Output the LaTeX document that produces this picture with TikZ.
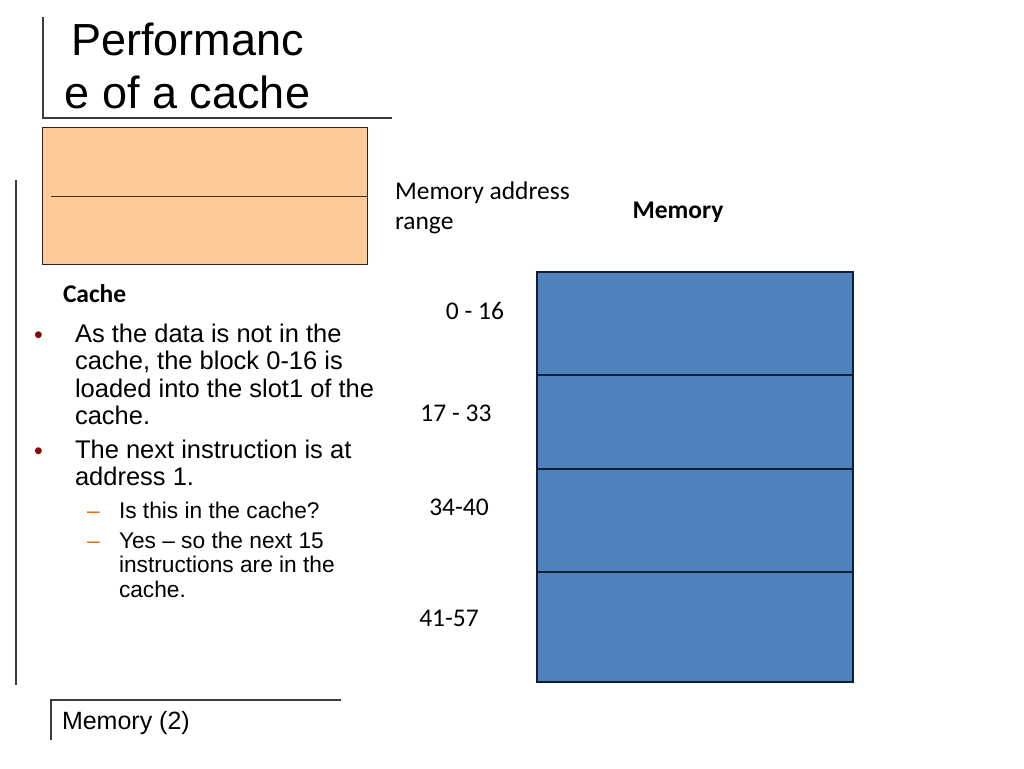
\documentclass[tikz,border=0pt]{standalone}
\usepackage{fontspec}
\setmainfont{Liberation Sans}
\newfontfamily\calibri{Carlito}
\usetikzlibrary{positioning}
\definecolor{cachefill}{RGB}{252,203,153}
\definecolor{cacheline}{RGB}{70,45,20}
\definecolor{memfill}{RGB}{79,129,189}
\definecolor{memline}{RGB}{15,30,55}
\definecolor{bulletred}{RGB}{130,10,10}
\definecolor{dashorange}{RGB}{228,108,10}
\definecolor{framegray}{RGB}{60,60,60}

\begin{document}
\begin{tikzpicture}[
    x=1pt, y=-1pt,
    every node/.style={inner sep=0pt, outer sep=0pt},
    titleframe/.style={draw=framegray, line width=1.3pt},
    cacheblock/.style={rectangle, draw=black!85, fill=cachefill, line width=0.8pt, minimum width=325pt, minimum height=137pt},
    memblock/.style={rectangle, draw=memline, fill=memfill, line width=1.1pt, minimum width=316pt},
    addrtext/.style={font=\calibri\fontsize{25.5}{30}\selectfont, align=left},
    boldtext/.style={font=\calibri\bfseries\fontsize{25.5}{30}\selectfont},
    bullettext/.style={font=\fontsize{25.5}{27.5}\selectfont, align=left, anchor=base west},
    subtext/.style={font=\fontsize{22.7}{24.5}\selectfont, align=left, anchor=base west},
    bulletdot/.style={text=bulletred, font=\fontsize{25}{25}\selectfont, anchor=base west},
    subdash/.style={text=dashorange, font=\fontsize{22.7}{24.5}\selectfont, anchor=base west}
    ]
    \useasboundingbox (0,0) rectangle (1024,768);
    % Title
    \coordinate (t1) at (43,17);
    \coordinate (t2) at (43,118);
    \coordinate (t3) at (392,118);
    \draw[titleframe] (t1) -- (t2) -- (t3);
    \node[font=\fontsize{45}{53}\selectfont, align=center, anchor=base] (title) at (187.5,108) {Performanc\\e of a cache};
    % Left rule
    \coordinate (l1) at (16,180);
    \coordinate (l2) at (16,685);
    \draw[titleframe] (l1) -- (l2);
    % Cache
    \node[cacheblock, anchor=north west] (cache) at (42,127) {};
    \coordinate (slot) at (51,196);
    \draw[cacheline, line width=0.9pt] (slot) -- (slot -| cache.east);
    \node[boldtext, anchor=base west] (cachelbl) at (63,302) {Cache};
    % Bullets (base = last line)
    \node[bulletdot] (d1) at (34,343) {\textbullet};
    \node[bullettext] (b1) at (75,424.5) {As the data is not in the\\cache, the block 0-16 is\\loaded into the slot1 of the\\cache.};
    \node[bulletdot] (d2) at (34,459) {\textbullet};
    \node[bullettext] (b2) at (75,485.5) {The next instruction is at\\address 1.};
    \node[subdash] (s1dash) at (87,518) {--};
    \node[subtext] (s1) at (119,518) {Is this in the cache?};
    \node[subdash] (s2dash) at (87,548) {--};
    \node[subtext] (s2) at (119,597) {Yes -- so the next 15\\instructions are in the\\cache.};
    % Memory
    \node[addrtext, anchor=base west] (addr) at (395,229) {Memory address\\range};
    \node[boldtext, anchor=base] (memlbl) at (678,218) {Memory};
    \node[memblock, minimum height=103pt, anchor=north west] (m1) at (537,272) {};
    \node[memblock, minimum height=94pt, below=0pt of m1] (m2) {};
    \node[memblock, minimum height=103pt, below=0pt of m2] (m3) {};
    \node[memblock, minimum height=110pt, below=0pt of m3] (m4) {};
    \node[addrtext] (r1) at (475,311) {0 - 16};
    \node[addrtext] (r2) at (456,413) {17 - 33};
    \node[addrtext] (r3) at (459,507) {34-40};
    \node[addrtext] (r4) at (449,618) {41-57};
    % Footer
    \coordinate (f1) at (51,740);
    \coordinate (f2) at (51,700);
    \coordinate (f3) at (341,700);
    \draw[titleframe] (f1) -- (f2) -- (f3);
    \node[font=\fontsize{25}{28}\selectfont, anchor=base west] (footer) at (62,729) {Memory (2)};
\end{tikzpicture}
\end{document}
